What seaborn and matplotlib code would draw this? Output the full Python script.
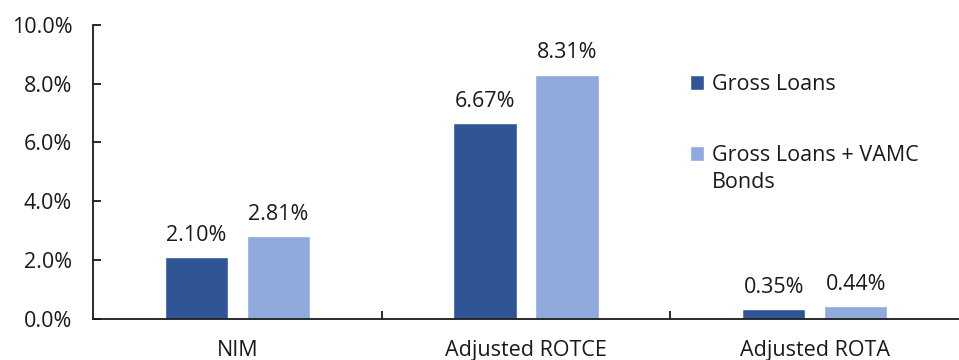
import matplotlib
matplotlib.use("Agg")
import matplotlib.pyplot as plt
from matplotlib.ticker import FuncFormatter, FixedLocator
import pandas as pd
import seaborn as sns

categories = ["NIM", "Adjusted ROTCE", "Adjusted ROTA"]
series_names = ["Gross Loans", "Gross Loans + VAMC Bonds"]
gross_loans = [2.10, 6.67, 0.35]
gross_loans_vamc = [2.81, 8.31, 0.44]
y_ticks = [0, 2, 4, 6, 8, 10]

colors = ["#2F5597", "#8FAADC"]
FS = 15.5
INK = "#1a1a1a"

df = pd.DataFrame({
    "metric": categories * 2,
    "series": [series_names[0]] * 3 + [series_names[1]] * 3,
    "value": gross_loans + gross_loans_vamc,
})

sns.set_theme(style="white")
plt.rcParams["font.family"] = ["Open Sans", "DejaVu Sans"]
plt.rcParams["text.color"] = INK

fig = plt.figure(figsize=(9.59, 3.6), dpi=100)
ax = fig.add_axes([0.097, 0.114, 0.903, 0.817])

sns.barplot(data=df, x="metric", y="value", hue="series", order=categories,
            hue_order=series_names, palette=colors, width=0.568, gap=0.225,
            saturation=1, ax=ax, errorbar=None)

for cont in ax.containers:
    ax.bar_label(cont, labels=[f"{v:.2f}%" for v in cont.datavalues],
                 padding=8, fontsize=FS, color=INK)

ax.set_xlim(-0.5, 2.5)
ax.set_ylim(0, 10)
ax.yaxis.set_major_locator(FixedLocator(y_ticks))
ax.yaxis.set_major_formatter(FuncFormatter(lambda v, p: f"{v:.1f}%"))
ax.set_xlabel("")
ax.set_ylabel("")

for s in ["top", "right"]:
    ax.spines[s].set_visible(False)
for s in ["left", "bottom"]:
    ax.spines[s].set_color(INK)
    ax.spines[s].set_linewidth(1.3)

ax.tick_params(axis="y", direction="in", length=6, width=1.3, color=INK,
               labelsize=FS, pad=15, left=True, labelcolor=INK)
ax.tick_params(axis="x", which="major", length=0, labelsize=FS, pad=15,
               labelcolor=INK)
ax.xaxis.set_minor_locator(FixedLocator([0.5, 1.5]))
ax.tick_params(axis="x", which="minor", direction="in", length=6, width=1.3,
               color=INK, bottom=True)

# Legend: the long label wraps, with its second line hanging under the first
handles, _ = ax.get_legend_handles_labels()
wrapped_first = "Gross Loans + VAMC"
leg = ax.legend(handles, [series_names[0], wrapped_first], loc="upper left",
                bbox_to_anchor=(0.68, 0.862), frameon=False, fontsize=FS,
                handlelength=0.65, handleheight=0.65, handletextpad=0.35,
                labelspacing=2.33, borderaxespad=0)
for t in leg.get_texts():
    t.set_color(INK)

fig.canvas.draw()
renderer = fig.canvas.get_renderer()
bb = leg.get_texts()[1].get_window_extent(renderer)
x0, y0 = fig.transFigure.inverted().transform((bb.x0, bb.y0))
fig.text(x0, y0 - 0.017, series_names[1][len(wrapped_first) + 1:],
         fontsize=FS, color=INK, ha="left", va="top")

fig.savefig("out.png", dpi=100)
